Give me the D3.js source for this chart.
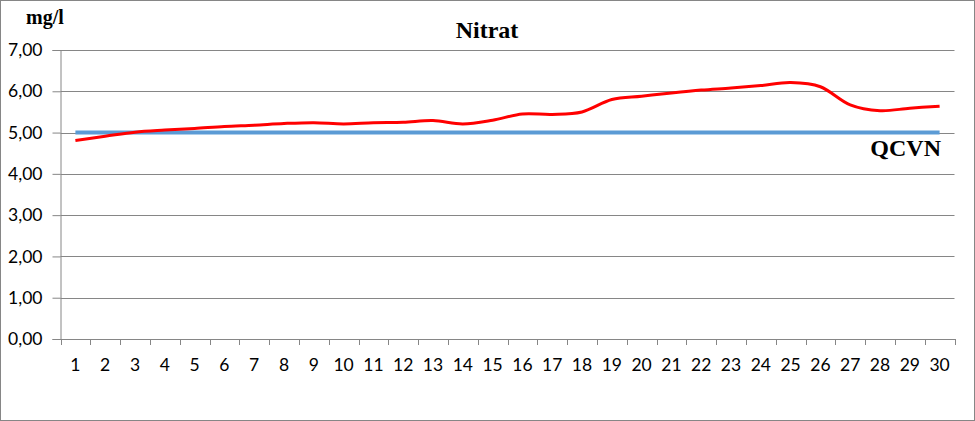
<!DOCTYPE html>
<html><head><meta charset="utf-8">
<script src="https://cdn.jsdelivr.net/npm/d3@7"></script>
<style>body{margin:0;background:#fff}</style>
</head><body>
<svg id="c" width="975" height="421"></svg>
<script>
const days = d3.range(1, 31).map(String);
const nitrat = [4.81,4.91,5.01,5.06,5.10,5.15,5.18,5.22,5.24,5.21,5.24,5.25,5.29,5.21,5.30,5.45,5.44,5.50,5.80,5.88,5.96,6.03,6.08,6.14,6.21,6.11,5.67,5.53,5.59,5.64];
const qcvn = days.map(() => 5.0);
const yTicks = [0,1,2,3,4,5,6,7];

const svg = d3.select("#c");
const L = 60.5, R = 954.5, T = 50, B = 339;
svg.append("rect").attr("x",0.5).attr("y",0.5).attr("width",974).attr("height",420)
  .attr("fill","#fff").attr("stroke","#868686");

const x = d3.scaleBand().domain(days).range([L, R]);
const y = d3.scaleLinear().domain([0,7]).range([B, T]);
const lab = "Lato, 'Open Sans', sans-serif";

// gridlines
svg.append("g").selectAll("line").data(yTicks.filter(d=>d>0)).join("line")
  .attr("x1",L).attr("x2",R).attr("y1",d=>Math.round(y(d))+0.5).attr("y2",d=>Math.round(y(d))+0.5)
  .attr("stroke","#868686").attr("stroke-width",1);

// y axis
const ya = svg.append("g").attr("transform",`translate(${L},0)`)
  .call(d3.axisLeft(y).tickValues(yTicks).tickSize(8).tickPadding(10)
    .tickFormat(d => d3.format(".2f")(d).replace(".", ",")));
ya.select(".domain").attr("stroke","#868686");
ya.selectAll(".tick line").attr("stroke","#868686");
ya.selectAll(".tick text").attr("font-family",lab).attr("font-size",17.5).attr("fill","#000");

// x axis
const xa = svg.append("g").attr("transform",`translate(0,${B})`)
  .call(d3.axisBottom(x).tickSize(0).tickPadding(20));
xa.select(".domain").attr("stroke","#868686");
xa.selectAll(".tick text").attr("font-family",lab).attr("font-size",17.5).attr("fill","#000");
// boundary ticks
const bounds = days.map(d => x(d)).concat([R]);
svg.append("g").selectAll("line").data(bounds).join("line")
  .attr("x1",d=>Math.round(d)+0.5).attr("x2",d=>Math.round(d)+0.5).attr("y1",B).attr("y2",B+6)
  .attr("stroke","#868686");

const cx = d => x(d) + x.bandwidth()/2;

// QCVN line
svg.append("path").datum(qcvn)
  .attr("d", d3.line().x((d,i)=>cx(days[i])).y(d=>y(d)))
  .attr("fill","none").attr("stroke","#5B9BD5").attr("stroke-width",4);

// Nitrat line
svg.append("path").datum(nitrat)
  .attr("d", d3.line().x((d,i)=>cx(days[i])).y(d=>y(d)).curve(d3.curveCatmullRom.alpha(0)))
  .attr("fill","none").attr("stroke","#FF0000").attr("stroke-width",3);

// titles
const serif = "'Liberation Serif', 'Times New Roman', serif";
svg.append("text").attr("x",487).attr("y",38).attr("text-anchor","middle")
  .attr("font-family",serif).attr("font-weight","bold").attr("font-size",24).text("Nitrat");
svg.append("text").attr("x",26).attr("y",24)
  .attr("font-family",serif).attr("font-weight","bold").attr("font-size",20).text("mg/l");
svg.append("text").attr("x",941).attr("y",156).attr("text-anchor","end")
  .attr("font-family",serif).attr("font-weight","bold").attr("font-size",24).text("QCVN");
</script>
</body></html>
